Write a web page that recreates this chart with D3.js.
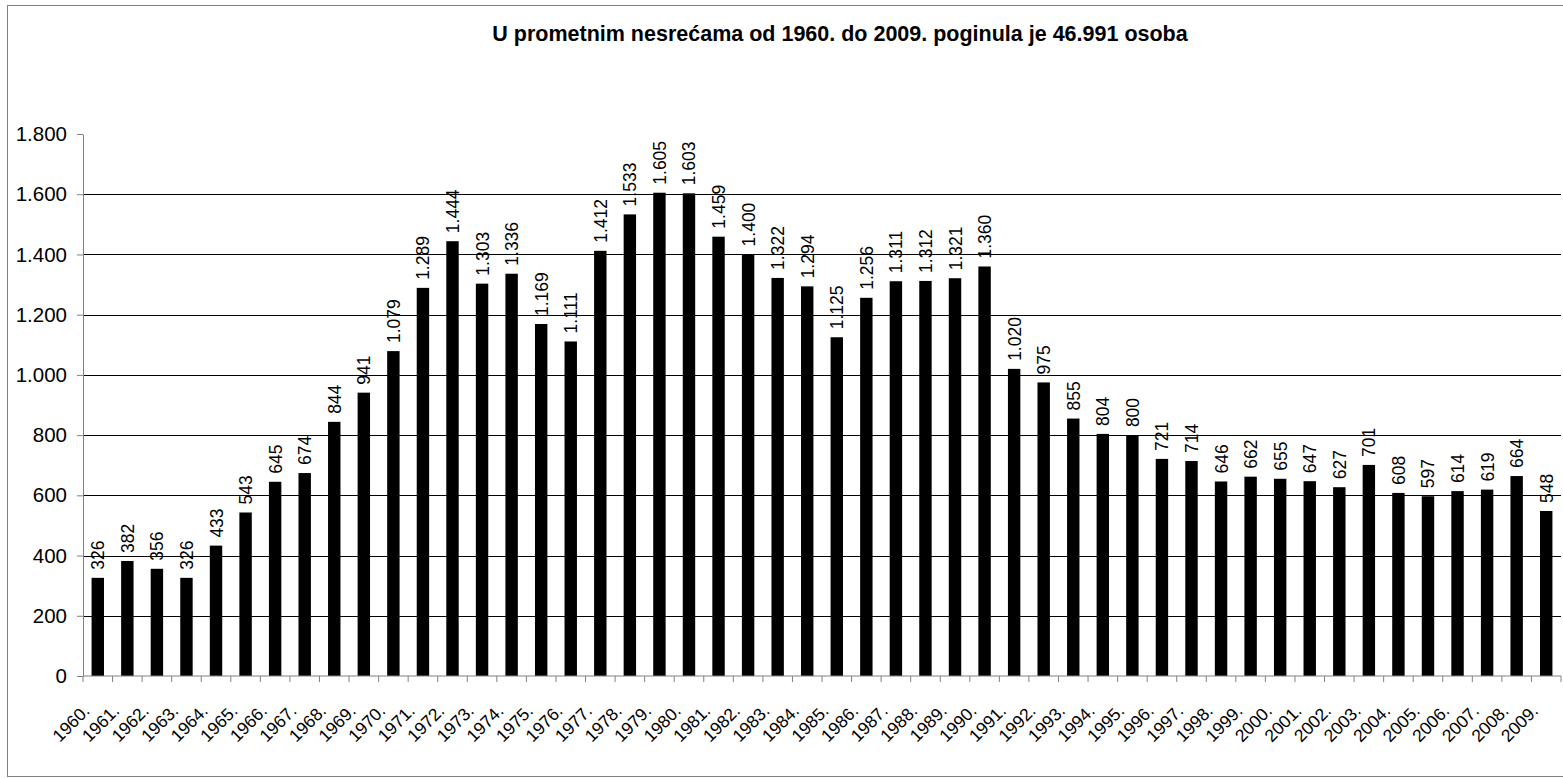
<!DOCTYPE html>
<html lang="hr">
<head>
<meta charset="UTF-8">
<title>Poginuli u prometnim nesrećama 1960-2009</title>
<script src="https://d3js.org/d3.v7.min.js"></script>
<style>
  body{margin:0;background:#fff;}
  .chart text{font-family:"Liberation Sans",Arial,sans-serif;fill:#000;}
  .axis path,.axis line{stroke:#808080;}
</style>
</head>
<body>
<svg class="chart"></svg>
<script>
// godine i broj poginulih
let years = ['1960.','1961.','1962.','1963.','1964.','1965.','1966.','1967.','1968.','1969.',
             '1970.','1971.','1972.','1973.','1974.','1975.','1976.','1977.','1978.','1979.',
             '1980.','1981.','1982.','1983.','1984.','1985.','1986.','1987.','1988.','1989.',
             '1990.','1991.','1992.','1993.','1994.','1995.','1996.','1997.','1998.','1999.',
             '2000.','2001.','2002.','2003.','2004.','2005.','2006.','2007.','2008.','2009.'];
let deaths = [326,382,356,326,433,543,645,674,844,941,
              1079,1289,1444,1303,1336,1169,1111,1412,1533,1605,
              1603,1459,1400,1322,1294,1125,1256,1311,1312,1321,
              1360,1020,975,855,804,800,721,714,646,662,
              655,647,627,701,608,597,614,619,664,548];
let yTicks = [0,200,400,600,800,1000,1200,1400,1600,1800];
let title = 'U prometnim nesrećama od 1960. do 2009. poginula je 46.991 osoba';

let W = 1563, H = 778;
let margin = {top:134, right:2, bottom:102, left:83};
let width = W - margin.left - margin.right, height = H - margin.top - margin.bottom;

let fmt = d3.formatLocale({decimal:',', thousands:'.', grouping:[3], currency:['','']}).format(',');

let svg = d3.select('.chart').attr('width', W).attr('height', H);

// okvir
svg.append('rect')
   .attr('x', 7.5).attr('y', 5.5)
   .attr('width', W).attr('height', H - 7)
   .attr('fill', 'none').attr('stroke', '#808080');

svg.append('text')
   .attr('x', 840).attr('y', 41)
   .attr('text-anchor', 'middle')
   .style('font-size', '21.5px').style('font-weight', 'bold')
   .text(title);

let chart = svg.append('g').attr('transform', 'translate(' + margin.left + ',' + margin.top + ')');

let x = d3.scaleBand().domain(years).range([0, width]).paddingInner(0.58).paddingOuter(0.29);
let y = d3.scaleLinear().domain([0, 1800]).range([height, 0]);

// mreža
chart.append('g')
     .selectAll('line')
     .data(yTicks.filter(d => d > 0 && d < 1800)).enter()
     .append('line')
     .attr('x1', 0).attr('x2', width)
     .attr('y1', d => Math.round(y(d)) + 0.5).attr('y2', d => Math.round(y(d)) + 0.5)
     .attr('stroke', '#000');

// stupci
chart.selectAll('.bar')
     .data(years).enter()
     .append('rect')
     .attr('x', d => x(d))
     .attr('y', (d, i) => y(deaths[i]))
     .attr('width', x.bandwidth())
     .attr('height', (d, i) => height - y(deaths[i]))
     .attr('fill', '#000');

// oznake vrijednosti
chart.selectAll('.val')
     .data(years).enter()
     .append('text')
     .attr('transform', (d, i) => 'translate(' + (x(d) + x.bandwidth() / 2 + 6.5) + ',' + (y(deaths[i]) - 8) + ') rotate(-90)')
     .style('font-size', '17.5px')
     .text((d, i) => fmt(deaths[i]));

// y os
let yAxis = chart.append('g')
     .attr('class', 'axis')
     .call(d3.axisLeft(y).tickValues(yTicks).tickFormat(fmt).tickSize(6).tickPadding(10).tickSizeOuter(0));
yAxis.selectAll('text').style('font-size', '20.5px');

// x os
let xAxis = chart.append('g')
     .attr('class', 'axis')
     .attr('transform', 'translate(0,' + height + ')');
xAxis.append('line').attr('x1', 0).attr('x2', width);
xAxis.selectAll('.tk')
     .data(d3.range(years.length + 1)).enter()
     .append('line')
     .attr('x1', i => i * x.step()).attr('x2', i => i * x.step())
     .attr('y1', 0).attr('y2', 6);
xAxis.selectAll('.lbl')
     .data(years).enter()
     .append('text')
     .attr('transform', d => 'translate(' + (x(d) + x.bandwidth() / 2 - 7) + ',' + 36 + ') rotate(-45)')
     .attr('text-anchor', 'end')
     .style('font-size', '17.5px')
     .text(d => d);
</script>
</body>
</html>
